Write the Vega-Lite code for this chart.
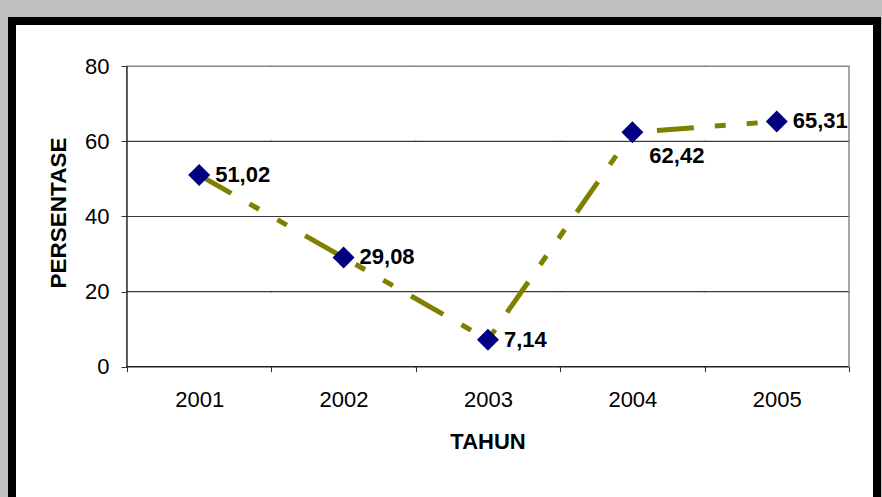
{
  "$schema": "https://vega.github.io/schema/vega-lite/v6.json",
  "autosize": {"type": "none"},
  "padding": {"left": 12, "top": 21, "right": 5, "bottom": -8},
  "width": 865,
  "height": 484,
  "background": "#c0c0c0",
  "config": {
    "view": {"stroke": "#000000", "strokeWidth": 8, "fill": "#ffffff"},
    "font": "Liberation Sans"
  },
  "datasets": {
    "main": [
      {"year": "2001", "v": 51.02, "label": "51,02"},
      {"year": "2002", "v": 29.08, "label": "29,08"},
      {"year": "2003", "v": 7.14, "label": "7,14"},
      {"year": "2004", "v": 62.42, "label": "62,42"},
      {"year": "2005", "v": 65.31, "label": "65,31"}
    ],
    "grid": [
      {"year": "2001", "v": 0}, {"year": "2002", "v": 0}, {"year": "2003", "v": 0}, {"year": "2004", "v": 0}, {"year": "2005", "v": 0},
      {"year": "2001", "v": 20}, {"year": "2002", "v": 20}, {"year": "2003", "v": 20}, {"year": "2004", "v": 20}, {"year": "2005", "v": 20},
      {"year": "2001", "v": 40}, {"year": "2002", "v": 40}, {"year": "2003", "v": 40}, {"year": "2004", "v": 40}, {"year": "2005", "v": 40},
      {"year": "2001", "v": 60}, {"year": "2002", "v": 60}, {"year": "2003", "v": 60}, {"year": "2004", "v": 60}, {"year": "2005", "v": 60},
      {"year": "2001", "v": 80}, {"year": "2002", "v": 80}, {"year": "2003", "v": 80}, {"year": "2004", "v": 80}, {"year": "2005", "v": 80}
    ],
    "edgeL": [{"year": "2001", "v": 0, "v2": 80}],
    "edgeR": [{"year": "2005", "v": 0, "v2": 80}]
  },
  "encoding": {
    "x": {
      "field": "year", "type": "ordinal", "bandPosition": 0.5,
      "scale": {"type": "band", "domain": ["2001", "2002", "2003", "2004", "2005"], "paddingInner": 0, "paddingOuter": 0.495, "align": 0.804},
      "axis": {
        "title": "TAHUN", "titleFont": "Liberation Sans", "titleFontSize": 22, "titleFontWeight": "bold", "titleColor": "#000000",
        "titleX": 475.5, "titleY": 81.3, "titleBaseline": "alphabetic", "titleAlign": "center",
        "labelFont": "Liberation Sans", "labelFontSize": 22, "labelColor": "#000000", "labelAngle": 0, "labelPadding": 18, "labelBaseline": "top",
        "tickBand": "extent", "tickSize": 5, "tickColor": "#333333", "tickWidth": 1,
        "domain": false, "grid": false, "offset": -138.3, "zindex": 2
      }
    },
    "y": {
      "field": "v", "type": "quantitative",
      "scale": {"domain": [-36.84, 92.06], "nice": false, "zero": false},
      "axis": {
        "title": "PERSENTASE", "titleFont": "Liberation Sans", "titleFontSize": 22.5, "titleFontWeight": "bold", "titleColor": "#000000",
        "titleX": -61.5, "titleY": 191.5, "titleBaseline": "alphabetic", "titleAlign": "center", "titleAngle": -90,
        "values": [0, 20, 40, 60, 80],
        "labelFont": "Liberation Sans", "labelFontSize": 22, "labelColor": "#000000", "labelPadding": 12,
        "tickSize": 6, "tickColor": "#333333", "tickWidth": 1,
        "domain": false, "grid": false, "offset": -115, "zindex": 2
      }
    }
  },
  "layer": [
    {
      "data": {"name": "grid"},
      "transform": [{"filter": "datum.v > 0 && datum.v < 80"}],
      "mark": {"type": "tick", "size": 146, "thickness": 1.2, "color": "#3a3a3a", "opacity": 1}
    },
    {
      "data": {"name": "grid"},
      "transform": [{"filter": "datum.v == 80"}],
      "mark": {"type": "tick", "size": 146, "thickness": 1.5, "color": "#8a8a8a", "opacity": 1}
    },
    {
      "data": {"name": "grid"},
      "transform": [{"filter": "datum.v == 0"}],
      "mark": {"type": "tick", "size": 146, "thickness": 1.5, "color": "#222222", "opacity": 1}
    },
    {
      "data": {"name": "edgeL"},
      "mark": {"type": "rule", "color": "#222222", "strokeWidth": 1.5},
      "encoding": {
        "x": {"field": "year", "type": "ordinal", "bandPosition": 0},
        "y2": {"field": "v2"}
      }
    },
    {
      "data": {"name": "edgeR"},
      "mark": {"type": "rule", "color": "#8a8a8a", "strokeWidth": 1.5},
      "encoding": {
        "x": {"field": "year", "type": "ordinal", "bandPosition": 1},
        "y2": {"field": "v2"}
      }
    },
    {
      "data": {"name": "main"},
      "mark": {"type": "line", "color": "#808000", "strokeWidth": 5, "strokeDash": [37, 21, 11, 21, 11, 21], "strokeCap": "butt"}
    },
    {
      "data": {"name": "main"},
      "mark": {"type": "point", "shape": "diamond", "size": 484, "filled": true, "color": "#000080", "opacity": 1}
    },
    {
      "data": {"name": "main"},
      "transform": [{"filter": "datum.year != '2004'"}],
      "mark": {"type": "text", "align": "left", "baseline": "middle", "dx": 16, "font": "Liberation Sans", "fontSize": 22, "fontWeight": "bold", "color": "#000000"},
      "encoding": {"text": {"field": "label"}}
    },
    {
      "data": {"name": "main"},
      "transform": [{"filter": "datum.year == '2004'"}],
      "mark": {"type": "text", "align": "left", "baseline": "middle", "dx": 17, "dy": 24, "font": "Liberation Sans", "fontSize": 22, "fontWeight": "bold", "color": "#000000"},
      "encoding": {"text": {"field": "label"}}
    }
  ]
}
